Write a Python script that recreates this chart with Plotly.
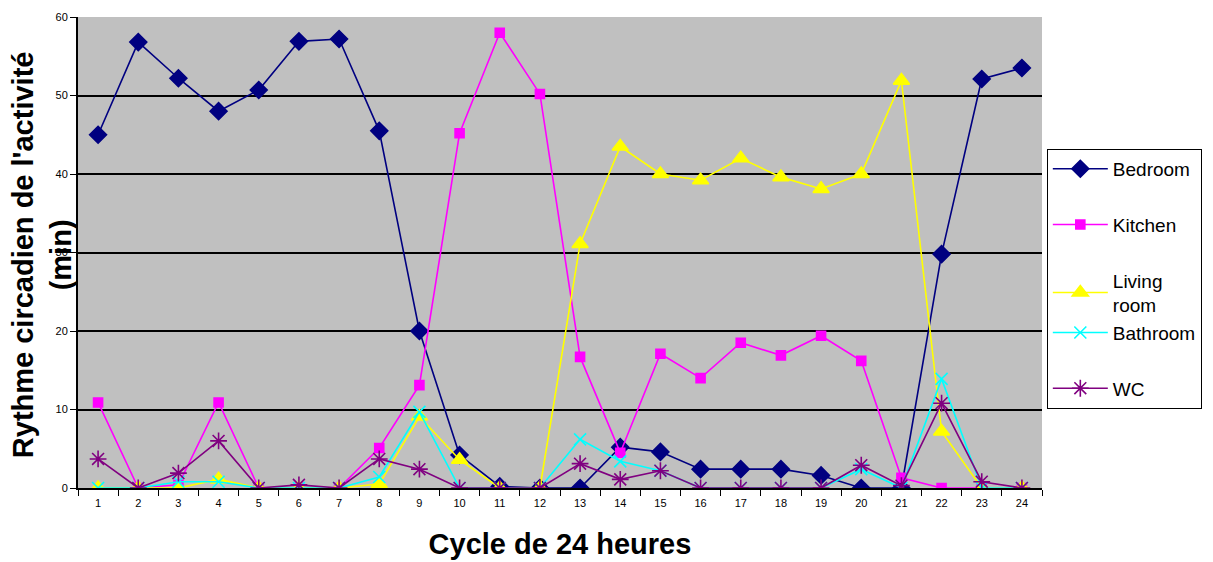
import plotly.graph_objects as go

hours = [str(h) for h in range(1, 25)]

bedroom = [45.0, 56.8, 52.2, 48.0, 50.7, 56.9, 57.2, 45.5, 20.0, 4.2, 0.2, 0.0,
           0.0, 5.2, 4.6, 2.4, 2.4, 2.4, 1.6, 0.0, 0.0, 29.8, 52.1, 53.5]
kitchen = [10.9, 0.0, 0.4, 10.9, 0.0, 0.0, 0.0, 5.1, 13.1, 45.2, 58.0, 50.2,
           16.7, 4.5, 17.1, 14.0, 18.5, 16.9, 19.4, 16.2, 1.3, 0.0, 0.0, 0.0]
living_room = [0.0, 0.0, 0.0, 1.1, 0.0, 0.0, 0.0, 0.5, 9.1, 3.6, 0.0, 0.0,
               31.1, 43.5, 40.0, 39.2, 42.0, 39.6, 38.1, 40.0, 51.9, 7.2, 0.0, 0.0]
bathroom = [0.0, 0.0, 0.8, 0.8, 0.0, 0.0, 0.0, 1.4, 9.7, 0.0, 0.0, 0.0,
            6.2, 3.4, 2.2, 0.0, 0.0, 0.0, 0.0, 2.4, 0.0, 13.9, 0.0, 0.0]
wc = [3.7, 0.0, 1.9, 6.0, 0.0, 0.4, 0.0, 3.7, 2.4, 0.0, 0.0, 0.0,
      3.1, 1.1, 2.2, 0.0, 0.0, 0.0, 0.0, 2.9, 0.3, 10.8, 0.8, 0.0]

# (label, values, colour, marker symbol, marker size, legend group)
series = [
    ("Bedroom", bedroom, "#000080", "diamond", 13, "g1"),
    ("Kitchen", kitchen, "#FF00FF", "square", 9, "g2"),
    ("Living<br>room", living_room, "#FFFF00", "triangle-up", 14, "g3"),
    ("Bathroom", bathroom, "#00FFFF", "x-thin-open", 12, "g3"),
    ("WC", wc, "#800080", "asterisk-open", 14, "g4"),
]

fig = go.Figure()
for name, values, color, symbol, size, group in series:
    fig.add_trace(go.Scatter(
        x=hours, y=values, name=name, mode="lines+markers",
        legendgroup=group,
        line=dict(color=color, width=1.6),
        marker=dict(symbol=symbol, size=size, color=color,
                    line=dict(color=color, width=1.6)),
    ))

fig.update_layout(
    width=1213, height=562,
    margin=dict(l=78, r=171, t=17, b=74, autoexpand=False),
    paper_bgcolor="white",
    plot_bgcolor="#C0C0C0",
    font=dict(family="Arial, Liberation Sans, sans-serif", color="black", size=11),
    showlegend=True,
    legend=dict(
        x=1.005, xanchor="left", y=0.72, yanchor="top",
        bordercolor="black", borderwidth=1, bgcolor="white",
        font=dict(size=19),
        tracegroupgap=28,
        itemwidth=55,
    ),
    xaxis=dict(
        type="category",
        range=[-0.5, 23.5],
        automargin=False,
        tickson="boundaries",
        ticks="outside", ticklen=6, tickcolor="black",
        ticklabelstandoff=4,
        showgrid=False,
        showline=True, linecolor="black", linewidth=2,
        tickfont=dict(size=11),
        title=dict(text="<b>Cycle de 24 heures</b>", font=dict(size=29), standoff=25),
    ),
    yaxis=dict(
        range=[0, 60], dtick=10,
        automargin=False,
        ticks="outside", ticklen=6, tickcolor="black",
        showgrid=True, gridcolor="black", gridwidth=1.5,
        showline=True, linecolor="black", linewidth=2,
        zeroline=False,
        tickfont=dict(size=11),
    ),
    annotations=[dict(
        text="<b>Rythme circadien de l'activité<br>(min)</b>",
        textangle=-90, font=dict(size=29),
        xref="paper", yref="paper", x=-0.037, y=0.495,
        xanchor="center", yanchor="middle", showarrow=False,
    )],
)

fig.write_html("out.html")
